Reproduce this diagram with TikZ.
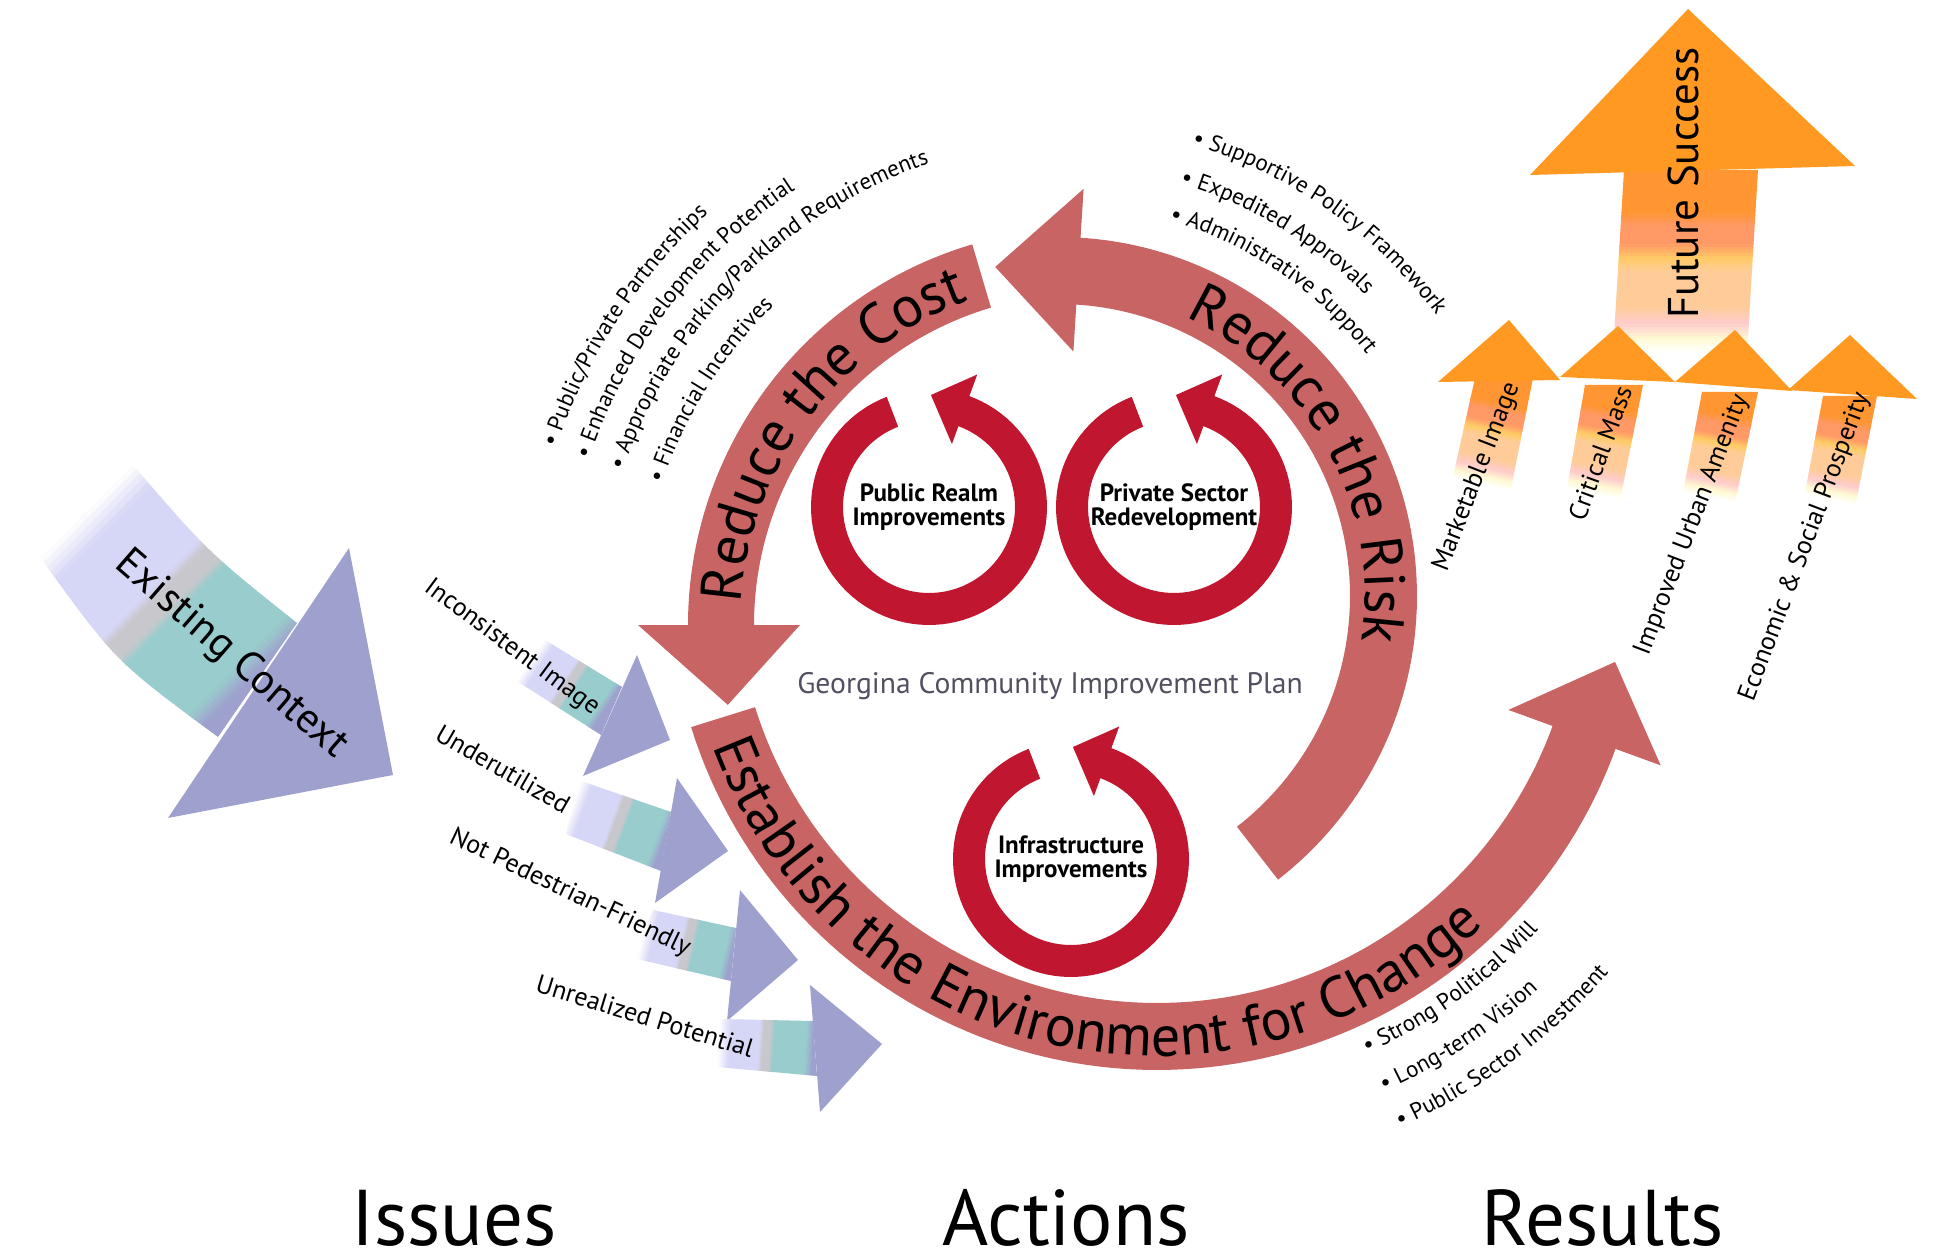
\documentclass[tikz,border=0pt]{standalone}
\usepackage{fontspec}
\setmainfont{PT Sans}
\usetikzlibrary{decorations.text}

\definecolor{band}{RGB}{200,100,100}
\definecolor{ringred}{RGB}{192,22,48}
\definecolor{lav}{RGB}{214,214,246}
\definecolor{grayb}{RGB}{200,200,204}
\definecolor{tealb}{RGB}{153,204,204}
\definecolor{headb}{RGB}{158,160,206}
\definecolor{orhead}{RGB}{255,153,34}
\definecolor{orshaft}{RGB}{255,150,50}
\definecolor{salm}{RGB}{255,153,102}
\definecolor{yel}{RGB}{255,204,102}
\definecolor{peach}{RGB}{255,204,153}
\definecolor{pinkb}{RGB}{255,204,204}
\definecolor{pale}{RGB}{255,250,210}
\definecolor{plangray}{RGB}{80,80,96}

% annular band between radii #3 and #4 around (#1,#2), from angle #5 to #6
\newcommand\bandarc[6]{plot[domain=#5:#6,samples=90] ({#1+#3*cos(\x)},{#2-#3*sin(\x)}) -- plot[domain=#6:#5,samples=90] ({#1+#4*cos(\x)},{#2-#4*sin(\x)}) -- cycle}
% arrow head: base at angle #3 from radius #4 to #5, tip at angle #6, radius #7
\newcommand\headtri[7]{({#1+#4*cos(#3)},{#2-#4*sin(#3)}) -- ({#1+#5*cos(#3)},{#2-#5*sin(#3)}) -- ({#1+#7*cos(#6)},{#2-#7*sin(#6)}) -- cycle}
% colour bands across a shaft: origin, direction, length, list of fa/fb/ca/cb
\newcommand\stripes[4]{%
  \begin{scope}[shift={#1},rotate=#2]
    \foreach \fa/\fb/\ca/\cb in #4{
      \foreach \k in {1,...,5}{
        \pgfmathsetmacro\xa{#3*(\fa+(\fb-\fa)*(\k-1)/5)}
        \pgfmathsetmacro\xb{#3*(\fa+(\fb-\fa)*\k/5)+0.8}
        \pgfmathsetmacro\pp{100-100*(\k-0.5)/5}
        \fill[fill=\ca!\pp!\cb] (\xa,-300) rectangle (\xb,300);
      }
    }
  \end{scope}}

\def\bluelist{-0.5/0/white/white, 0/0.12/white/lav, 0.12/0.42/lav/lav, 0.42/0.46/lav/grayb, 0.46/0.53/grayb/grayb, 0.53/0.57/grayb/tealb, 0.57/0.9/tealb/tealb, 0.9/0.98/tealb/headb, 0.98/1.5/headb/headb}
\def\orangelist{-0.5/0.22/orshaft/orshaft, 0.22/0.3/orshaft/salm, 0.3/0.4/salm/salm, 0.4/0.48/salm/yel, 0.48/0.55/yel/peach, 0.55/0.74/peach/peach, 0.74/0.84/peach/pinkb, 0.84/0.92/pinkb/pale, 0.92/1.0/pale/white, 1.0/1.5/white/white}

\newcommand\bandfont{\fontsize{29}{29}\selectfont}
\newcommand\bulfont{\fontsize{11.5}{11.5}\selectfont}

\tikzset{
  issuelbl/.style={inner sep=0pt, font=\fontsize{13}{13}\selectfont},
  resultlbl/.style={inner sep=0pt, font=\fontsize{13}{13}\selectfont},
  ringlbl/.style={inner sep=0pt, align=center, font=\bfseries\fontsize{12.5}{12}\selectfont},
  heading/.style={inner sep=0pt, anchor=base, font=\fontsize{39.5}{40}\selectfont},
}

\begin{document}
\begin{tikzpicture}[x=0.5pt,y=-0.5pt]
\useasboundingbox (0,0) rectangle (1935,1257);

% ===== Issues =====
\begin{scope}
  \clip (133,465) .. controls (208,552) .. (297,623) -- (218,737) .. controls (115,661) .. (40,557) -- cycle;
  \stripes{(86.5,511)}{-44.7}{240}{\bluelist}
\end{scope}
\fill[headb] (349,548) -- (393,775) -- (168,818) -- cycle;
\node[inner sep=0pt, rotate=-41, font=\fontsize{21}{21}\selectfont] (ctx) at (231,655) {Existing Context};

\begin{scope}
  \clip (545,640) -- (622,687) -- (601,735) -- (517,681) -- cycle;
  \stripes{(531,660.5)}{-33.8}{91}{\bluelist}
\end{scope}
\fill[headb] (637,655) -- (670,740) -- (583,776) -- cycle;
\node[issuelbl, rotate=-36.5] (i1) at (512,648) {Inconsistent Image};

\begin{scope}
  \clip (578,780) -- (671,812) -- (661,871) -- (566,834) -- cycle;
  \stripes{(572,807)}{-20.2}{100}{\bluelist}
\end{scope}
\fill[headb] (677,778) -- (728,851) -- (655,903) -- cycle;
\node[issuelbl, rotate=-30] (i2) at (503,769) {Underutilized};

\begin{scope}
  \clip (653,910) -- (736,928) -- (731,981) -- (633,958) -- cycle;
  \stripes{(643,934)}{-12.8}{93}{\bluelist}
\end{scope}
\fill[headb] (740,890) -- (798,960) -- (727,1021) -- cycle;
\node[issuelbl, rotate=-25.5] (i3) at (570,893) {Not Pedestrian-Friendly};

\begin{scope}
  \clip (720,1019) -- (813,1021) -- (817,1076) -- (717,1067) -- cycle;
  \stripes{(718.5,1043)}{-3.3}{97}{\bluelist}
\end{scope}
\fill[headb] (810,985) -- (882,1044) -- (820,1112) -- cycle;
\node[issuelbl, rotate=-17] (i4) at (645,1016) {Unrealized Potential};

% ===== Actions: main cycle =====
\fill[band] \bandarc{1085}{625}{331}{397}{106.5}{180.5};
\fill[band] \headtri{1085}{625}{180}{285}{447}{192.6}{366};
\fill[band] \bandarc{1058}{596}{292}{359}{-52.2}{87};
\fill[band] \headtri{1058}{596}{86.4}{245}{408}{100.8}{335};
\fill[band] \bandarc{1157}{582}{421}{488}{197.3}{340.5};
\fill[band] \headtri{1157}{582}{340}{374}{536}{350.1}{465};

\path[decorate, decoration={text along path, text align=center, text={|\bandfont|Reduce the Cost}}]
  plot[domain=185:101, samples=100] ({1085+345*cos(\x)},{625-345*sin(\x)});
\path[decorate, decoration={text along path, text align=center, text={|\bandfont|Reduce the Risk}}]
  plot[domain=74.5:-17.5, samples=100] ({1058+307*cos(\x)},{596-307*sin(\x)});
\path[decorate, decoration={text along path, text align=center, text={|\bandfont|Establish the Environment for Change}}]
  plot[domain=189:325, samples=140] ({1157+474*cos(\x)},{582-474*sin(\x)});

% small cycles
\foreach \cx/\cy in {929/507, 1174/507, 1071/859}{
  \fill[ringred] \bandarc{\cx}{\cy}{86}{118}{111}{430.5};
  \fill[ringred] \headtri{\cx}{\cy}{430}{67}{141}{449}{112};
}
\node[ringlbl] (pub) at (929,507) {Public Realm\\Improvements};
\node[ringlbl] (prv) at (1174,507) {Private Sector\\Redevelopment};
\node[ringlbl] (inf) at (1071,859) {Infrastructure\\Improvements};

\node[inner sep=0pt, text=plangray, font=\fontsize{14.8}{14.8}\selectfont] (plan) at (1050,686) {Georgina Community Improvement Plan};

% bullet lists
\path[decorate, decoration={text along path, text={|\bulfont|• Public/Private Partnerships}}]
  plot[domain=161.5:95, samples=90] ({1085+558*cos(\x)},{625-558*sin(\x)});
\path[decorate, decoration={text along path, text={|\bulfont|• Enhanced Development Potential}}]
  plot[domain=161.5:95, samples=90] ({1085+523*cos(\x)},{625-523*sin(\x)});
\path[decorate, decoration={text along path, text={|\bulfont|• Appropriate Parking/Parkland Requirements}}]
  plot[domain=161.5:90, samples=90] ({1085+487*cos(\x)},{625-487*sin(\x)});
\path[decorate, decoration={text along path, text={|\bulfont|• Financial Incentives}}]
  plot[domain=161.5:95, samples=90] ({1085+446*cos(\x)},{625-446*sin(\x)});

\path[decorate, decoration={text along path, text={|\bulfont|• Supportive Policy Framework}}]
  plot[domain=73.5:0, samples=90] ({1058+471*cos(\x)},{596-471*sin(\x)});
\path[decorate, decoration={text along path, text={|\bulfont|• Expedited Approvals}}]
  plot[domain=73.5:0, samples=90] ({1058+430*cos(\x)},{596-430*sin(\x)});
\path[decorate, decoration={text along path, text={|\bulfont|• Administrative Support}}]
  plot[domain=73.5:0, samples=90] ({1058+392*cos(\x)},{596-392*sin(\x)});

\path[decorate, decoration={text along path, text={|\bulfont|• Strong Political Will}}]
  plot[domain=294:345, samples=90] ({1157+516*cos(\x)},{582-516*sin(\x)});
\path[decorate, decoration={text along path, text={|\bulfont|• Long-term Vision}}]
  plot[domain=294:345, samples=90] ({1157+558*cos(\x)},{582-558*sin(\x)});
\path[decorate, decoration={text along path, text={|\bulfont|• Public Sector Investment}}]
  plot[domain=294:345, samples=90] ({1157+597*cos(\x)},{582-597*sin(\x)});

% ===== Results =====
\begin{scope}
  \clip (1624,170) -- (1758,170) -- (1747,353) -- (1613,353) -- cycle;
  \stripes{(1691,172)}{-90}{181}{\orangelist}
\end{scope}
\fill[orhead] (1530,175) -- (1688,9) -- (1855,166) -- cycle;
\node[inner sep=0pt, rotate=90, font=\fontsize{21.5}{21.5}\selectfont] (fut) at (1683,183) {Future Success};

\begin{scope}
  \clip (1475,378) -- (1533,378) -- (1510,493) -- (1453,477) -- cycle;
  \stripes{(1504,380)}{-102.1}{107}{\orangelist}
\end{scope}
\begin{scope}
  \clip (1585,385) -- (1643,385) -- (1620,500) -- (1567,489) -- cycle;
  \stripes{(1614,385)}{-100.6}{111}{\orangelist}
\end{scope}
\begin{scope}
  \clip (1702,392) -- (1758,392) -- (1735,503) -- (1683,493) -- cycle;
  \stripes{(1730,392)}{-101.2}{108}{\orangelist}
\end{scope}
\begin{scope}
  \clip (1823,396) -- (1877,396) -- (1855,507) -- (1805,493) -- cycle;
  \stripes{(1850,396)}{-100.9}{106}{\orangelist}
\end{scope}
\fill[orhead] (1438,382) -- (1509,320) -- (1560,380) -- cycle;
\fill[orhead] (1560,377) -- (1618,326) -- (1675,382) -- cycle;
\fill[orhead] (1675,382) -- (1735,330) -- (1792,391) -- cycle;
\fill[orhead] (1788,390) -- (1850,335) -- (1917,399) -- cycle;

\node[resultlbl, rotate=68.8] (r1) at (1477,477) {Marketable Image};
\node[resultlbl, rotate=70] (r2) at (1600,453) {Critical Mass};
\node[resultlbl, rotate=69] (r3) at (1692,525) {Improved Urban Amenity};
\node[resultlbl, rotate=69.3] (r4) at (1805,547) {Economic \& Social Prosperity};

% ===== column headings =====
\node[heading] (issues) at (454,1245) {Issues};
\node[heading] (actions) at (1066,1245) {Actions};
\node[heading] (results) at (1603,1245) {Results};
\end{tikzpicture}
\end{document}
